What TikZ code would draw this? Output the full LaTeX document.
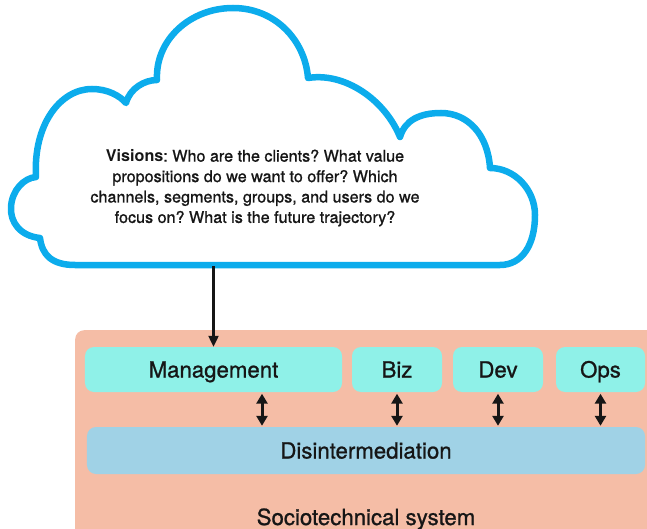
\documentclass[tikz,border=0pt]{standalone}
\usepackage{fontspec}
\setmainfont{TeX Gyre Heros}
\newfontfamily\heavyfont{TeX Gyre Heros}[FakeBold=1.0]
\newfontfamily\vbold{TeX Gyre Heros Bold}
\usetikzlibrary{arrows.meta}
\definecolor{cloudblue}{RGB}{12,172,236}
\definecolor{salmon}{RGB}{245,189,166}
\definecolor{aqua}{RGB}{143,241,232}
\definecolor{skyb}{RGB}{160,210,230}
\definecolor{ink}{RGB}{22,22,22}
\frenchspacing
\begin{document}
\begin{tikzpicture}[x=1bp,y=-1bp,
  lbl/.style={text=ink, font=\heavyfont\fontsize{22.3}{26}\selectfont, text height=16bp, text depth=0bp},
  unitbox/.style={lbl, fill=aqua, rounded corners=9bp, inner sep=0pt, minimum height=45bp},
  link/.style={draw=ink, line width=2.2bp, -{Triangle[length=11bp,width=10bp]}},
  dlink/.style={draw=ink, line width=3bp, {Triangle[length=10bp,width=11bp]}-{Triangle[length=10bp,width=11bp]}, shorten <=1.5bp, shorten >=1bp}]
\useasboundingbox (0,0) rectangle (647,529);
\clip (0,0) rectangle (647,529);
% sociotechnical system
\node[fill=salmon, rounded corners=9bp, inner sep=0pt, minimum width=600bp, minimum height=220bp, anchor=north west] (socio) at (75,330) {};
\node[lbl] (sociolabel) at (366,517) {Sociotechnical system};
% units
\node[unitbox, minimum width=257bp] (mgmt) at (213.5,369.5) {Management};
\node[unitbox, minimum width=90bp] (biz) at (397,369.5) {Biz};
\node[unitbox, minimum width=90bp] (dev) at (498,369.5) {Dev};
\node[unitbox, minimum width=89bp] (ops) at (600.5,369.5) {Ops};
\node[lbl, fill=skyb, rounded corners=9bp, inner sep=0pt, minimum width=558bp, minimum height=47bp] (dis) at (366,450.5) {Disintermediation};
% cloud
\draw[cloudblue, line width=6.5bp, fill=white, line join=round]
  (75,265) .. controls (52,265) and (42,255) .. (40,238)
  .. controls (20,236) and (10,222) .. (11,207)
  .. controls (12,190) and (24,178) .. (36,177)
  .. controls (33,125) and (60,89) .. (92,89)
  .. controls (108,89) and (120,96) .. (126,103)
  .. controls (130,88) and (145,80) .. (157,80)
  .. controls (155,40) and (190,8) .. (233,8)
  .. controls (275,8) and (305,40) .. (308,78)
  .. controls (345,72) and (385,100) .. (400,137)
  .. controls (405,120) and (420,113) .. (441,113)
  .. controls (468,113) and (488,135) .. (490,168)
  .. controls (515,168) and (535,190) .. (535,215)
  .. controls (535,245) and (522,265) .. (500,265)
  -- cycle;
\node[text=ink, align=center, font=\heavyfont\fontsize{16.2}{20.5}\selectfont] (vision) at (255,188)
  {{\vbold Visions}: Who are the clients? What value\\
   propositions do we want to offer? Which\\
   channels, segments, groups, and users do we\\
   focus on? What is the future trajectory?};
\coordinate (cloudbot) at (213.5,266);
\draw[link] (cloudbot) -- (mgmt.north);
% double arrows
\coordinate (ma) at (262,0);
\draw[dlink] (ma |- mgmt.south) -- (ma |- dis.north);
\draw[dlink] (biz.south) -- (biz.south |- dis.north);
\draw[dlink] (dev.south) -- (dev.south |- dis.north);
\draw[dlink] (ops.south) -- (ops.south |- dis.north);
\end{tikzpicture}
\end{document}
